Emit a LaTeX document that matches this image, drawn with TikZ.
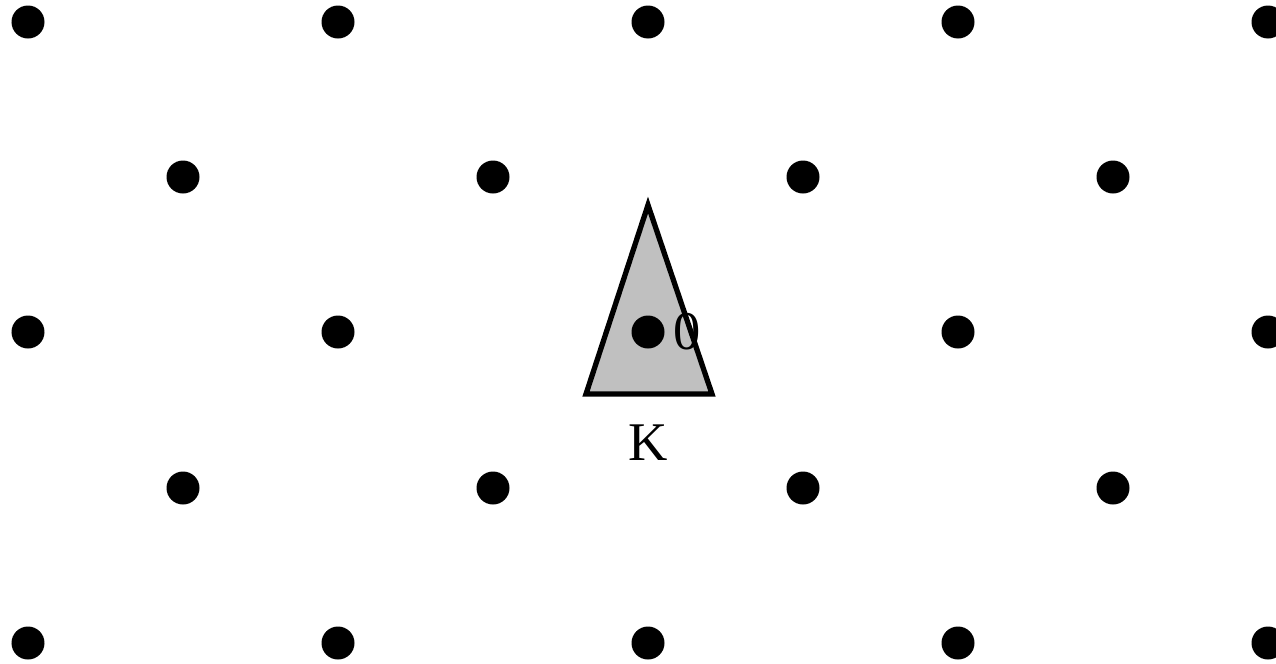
\documentclass[tikz,border=0pt]{standalone}
\usepackage{xcolor}
\usepackage{fontspec}
\setmainfont{Liberation Serif}
\usetikzlibrary{positioning}
\definecolor{bodygray}{HTML}{C0C0C0}

\tikzset{
  latticept/.style={circle, fill=black, minimum size=0.33cm, inner sep=0pt},
  bodyK/.style={fill=bodygray, draw=black, line width=1.5pt, line join=miter},
  lbl/.style={inner sep=0pt, font=\fontsize{15.5}{18}\selectfont}
}

\begin{document}
\begin{tikzpicture}
    \useasboundingbox (0,0) rectangle (12.76,6.63);
    % the body K
    \coordinate (apex) at (6.48,4.58);
    \coordinate (baseL) at (5.86,2.69);
    \coordinate (baseR) at (7.12,2.69);
    \draw[bodyK] (apex) -- (baseL) -- (baseR) -- cycle;
    % lattice points, rows 0,2,4 and rows 1,3
    \foreach \r/\y in {0/6.41, 2/3.31, 4/0.20}
      \foreach \c in {0,...,4}
        \node[latticept] (dot-\r-\c) at ({0.28+3.1*\c},\y) {};
    \foreach \r/\y in {1/4.86, 3/1.75}
      \foreach \c in {0,...,3}
        \node[latticept] (dot-\r-\c) at ({1.83+3.1*\c},\y) {};
    % labels
    \node[lbl, right=0.08cm of dot-2-2] (origin) {0};
    \node[lbl] (K) at (6.48,2.20) {K};
  \end{tikzpicture}
\end{document}
